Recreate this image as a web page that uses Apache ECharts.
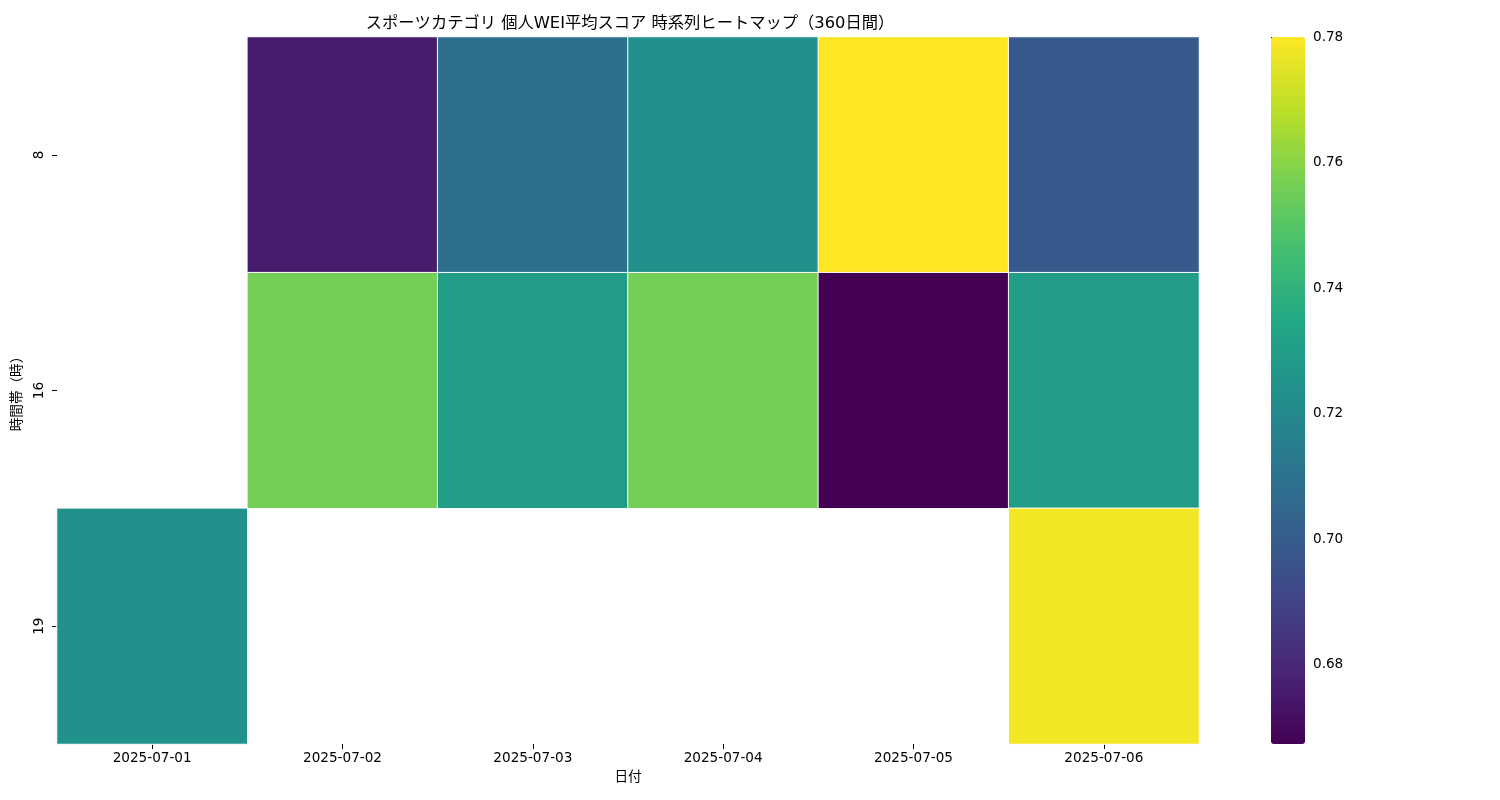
<!DOCTYPE html>
<html><head><meta charset="utf-8">
<script src="https://cdn.jsdelivr.net/npm/echarts@6/dist/echarts.min.js"></script>
<style>html,body{margin:0;padding:0;background:#fff}#c{width:1500px;height:800px}</style>
</head><body><div id="c"></div>
<script>
const dates = ['2025-07-01','2025-07-02','2025-07-03','2025-07-04','2025-07-05','2025-07-06'];
const hours = ['8','16','19'];
const row8  = [null, 0.676, 0.709, 0.7237, 0.780, 0.699];
const row16 = [null, 0.756, 0.730, 0.756, 0.6674, 0.730];
const row19 = [0.7237, null, null, null, null, 0.778];
const colorMin = 0.6674, colorMax = 0.78;
const colorTicks = [0.68, 0.70, 0.72, 0.74, 0.76, 0.78];
const viridis = ['#440154','#482475','#414487','#355f8d','#2a788e','#21918c','#22a884','#44bf70','#7ad151','#bddf26','#fde725'];

const rows = [row8, row16, row19];
const data = [];
rows.forEach((r, yi) => r.forEach((v, xi) => { if (v !== null) data.push([xi, yi, v]); }));

const FONT = '"DejaVu Sans", "Noto Sans CJK JP", sans-serif';
const FS = 13.6;
const chart = echarts.init(document.getElementById('c'));
chart.setOption({
  animation: false,
  textStyle: {fontFamily: FONT},
  title: {text: 'スポーツカテゴリ 個人WEI平均スコア 時系列ヒートマップ（360日間）', left: 625, top: 11, textAlign: 'center',
    textStyle: {fontFamily: FONT, fontSize: 16.3, fontWeight: 'normal', color: '#000'}},
  grid: [
    {left: 57, top: 37, width: 1142, height: 707},
    {left: 1271, top: 37, width: 34, height: 707}
  ],
  xAxis: [
    {type: 'category', data: dates, gridIndex: 0, name: '日付', nameLocation: 'middle', nameGap: 26,
     nameTextStyle: {fontFamily: FONT, fontSize: FS, color: '#000'},
     axisLine: {show: false}, axisTick: {show: true, length: 5, alignWithLabel: true, lineStyle: {color: '#000'}},
     axisLabel: {fontFamily: FONT, fontSize: FS, color: '#000', margin: 8}, splitLine: {show: false}},
    {type: 'value', gridIndex: 1, show: false}
  ],
  yAxis: [
    {type: 'category', data: hours, gridIndex: 0, inverse: true, name: '時間帯（時）', nameLocation: 'middle', nameGap: 31,
     nameRotate: 90, nameTextStyle: {fontFamily: FONT, fontSize: FS, color: '#000'},
     axisLine: {show: false}, axisTick: {show: true, length: 5, alignWithLabel: true, lineStyle: {color: '#000'}},
     axisLabel: {fontFamily: FONT, fontSize: FS, color: '#000', rotate: 90, margin: 11}, splitLine: {show: false}},
    {type: 'value', gridIndex: 1, position: 'right', min: colorMin, max: colorMax,
     axisLine: {show: false}, splitLine: {show: false},
     axisTick: {show: true, length: 5, customValues: colorTicks, lineStyle: {color: '#000'}},
     axisLabel: {fontFamily: FONT, fontSize: FS, color: '#000', margin: 8, customValues: colorTicks,
       formatter: v => v.toFixed(2)}}
  ],
  visualMap: {type: 'continuous', min: colorMin, max: colorMax, seriesIndex: 0, calculable: false,
    left: 1271, top: 37, itemWidth: 34, itemHeight: 707, padding: 0, hoverLink: false,
    inRange: {color: viridis}},
  series: [{type: 'heatmap', xAxisIndex: 0, yAxisIndex: 0, data: data,
    itemStyle: {borderColor: '#fff', borderWidth: 1}, emphasis: {disabled: true}}]
});
</script></body></html>
